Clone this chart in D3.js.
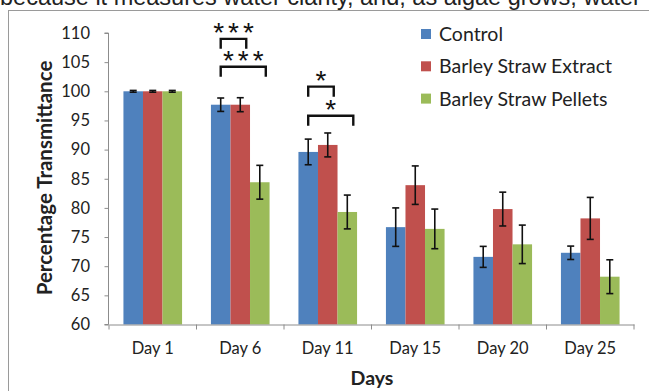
<!DOCTYPE html>
<html>
<head>
<meta charset="utf-8">
<script src="https://cdn.jsdelivr.net/npm/d3@7"></script>
<style>
  body { margin: 0; background: #fff; }
  svg text { font-family: Lato, "Open Sans", sans-serif; }
</style>
</head>
<body>
<div class="container"></div>
<script>
var days = ["Day 1", "Day 6", "Day 11", "Day 15", "Day 20", "Day 25"];
var seriesNames = ["Control", "Barley Straw Extract", "Barley Straw Pellets"];
var control = [100, 97.7, 89.6, 76.7, 71.6, 72.3];
var controlErr = [0.15, 1.15, 2.2, 3.3, 1.8, 1.15];
var extract = [100, 97.7, 90.8, 83.9, 79.8, 78.2];
var extractErr = [0.15, 1.2, 2.05, 3.3, 2.9, 3.6];
var pellets = [100, 84.4, 79.3, 76.4, 73.75, 68.2];
var pelletsErr = [0.15, 2.9, 2.9, 3.4, 3.3, 2.9];
var yTicks = [60, 65, 70, 75, 80, 85, 90, 95, 100, 105, 110];
// significance: day, from series, to series, bracket level (y value), label
var sigDay = ["Day 6", "Day 6", "Day 11", "Day 11"];
var sigFrom = [0, 0, 0, 0];
var sigTo = [1, 2, 1, 2];
var sigLevel = [109, 104.2, 100.8, 95.8];
var sigLabel = ["***", "***", "*", "*"];

const WIDTH = 649;
const HEIGHT = 391;
const colors = ["#4f81bd", "#c0504d", "#9bbb59"];
const AXIS = "#8c8c8c";

var values = [control, extract, pellets];
var errors = [controlErr, extractErr, pelletsErr];

var svg = d3.select('.container').append('svg')
  .attr('width', WIDTH)
  .attr('height', HEIGHT);

// clipped sentence from the page above the figure
svg.append('text')
  .attr('x', 0).attr('y', 5)
  .style('font-family', '"Liberation Sans", Arial, sans-serif')
  .style('font-size', '23.5px')
  .attr('fill', '#222')
  .text('because it measures water clarity, and, as algae grows, water');

svg.append('rect')
  .attr('x', 8.5).attr('y', 10.5)
  .attr('width', 660).attr('height', 400)
  .attr('fill', 'none')
  .attr('stroke', '#9a9a9a');

var xScale = d3.scaleBand()
  .domain(days)
  .range([109, 634]);

var inner = d3.scaleBand()
  .domain([0, 1, 2])
  .range([xScale.bandwidth() * 0.165, xScale.bandwidth() * 0.835]);

var yScale = d3.scaleLinear()
  .domain([60, 110])
  .range([324.5, 33]);

var translate = function (x, y) {
  return "translate(" + x + "," + y + ")";
};

// bars
var groups = svg.selectAll('g.day')
  .data(days)
  .enter().append('g')
  .attr('class', 'day')
  .attr('transform', function (d) { return translate(xScale(d), 0); });

groups.selectAll('rect')
  .data(function (d, i) {
    return [0, 1, 2].map(function (s) { return { s: s, v: values[s][i], e: errors[s][i] }; });
  })
  .enter().append('rect')
  .attr('x', function (d) { return inner(d.s); })
  .attr('width', inner.bandwidth())
  .attr('y', function (d) { return yScale(d.v); })
  .attr('height', function (d) { return yScale(60) - yScale(d.v); })
  .attr('fill', function (d) { return colors[d.s]; });

// error bars
var errG = groups.selectAll('g.err')
  .data(function (d, i) {
    return [0, 1, 2].map(function (s) { return { s: s, v: values[s][i], e: errors[s][i] }; });
  })
  .enter().append('g')
  .attr('class', 'err')
  .attr('stroke', '#111')
  .attr('stroke-width', 1.6);

errG.append('line')
  .attr('x1', function (d) { return inner(d.s) + inner.bandwidth() / 2; })
  .attr('x2', function (d) { return inner(d.s) + inner.bandwidth() / 2; })
  .attr('y1', function (d) { return yScale(d.v + d.e); })
  .attr('y2', function (d) { return yScale(d.v - d.e); });

[1, -1].forEach(function (sign) {
  errG.append('line')
    .attr('x1', function (d) { return inner(d.s) + inner.bandwidth() / 2 - 3.5; })
    .attr('x2', function (d) { return inner(d.s) + inner.bandwidth() / 2 + 3.5; })
    .attr('y1', function (d) { return yScale(d.v + sign * d.e); })
    .attr('y2', function (d) { return yScale(d.v + sign * d.e); });
});

// axes
var yAxis = d3.axisLeft(yScale).tickValues(yTicks).tickSize(4).tickPadding(14.5);
var gy = svg.append('g')
  .attr('transform', translate(108.5, 0))
  .call(yAxis);
gy.select('.domain').attr('stroke', AXIS).attr('d', 'M-4,' + yScale(110) + 'H0V' + yScale(60) + 'H-4');

var xAxis = d3.axisBottom(xScale).tickSize(0).tickPadding(18);
var gx = svg.append('g')
  .attr('transform', translate(0, 324.5))
  .call(xAxis);
gx.select('.domain').attr('stroke', AXIS);
gx.selectAll('.tick line').remove();

var xEdges = days.map(function (d) { return xScale(d); }).concat([xScale.range()[1]]);
gx.selectAll('line.edge')
  .data(xEdges)
  .enter().append('line')
  .attr('class', 'edge')
  .attr('x1', function (d) { return d; }).attr('x2', function (d) { return d; })
  .attr('y1', 0).attr('y2', 5)
  .attr('stroke', AXIS);

svg.selectAll('.tick line').attr('stroke', AXIS);
svg.selectAll('.tick text')
  .style('font-family', 'Lato, sans-serif')
  .style('font-size', '16.5px')
  .attr('fill', '#222');

// axis titles
svg.append('text')
  .attr('transform', translate(52, 178) + ' rotate(-90)')
  .attr('text-anchor', 'middle')
  .style('font-size', '20.5px')
  .style('font-weight', 'bold')
  .attr('fill', '#222')
  .text('Percentage Transmittance');

svg.append('text')
  .attr('x', 372).attr('y', 385)
  .attr('text-anchor', 'middle')
  .style('font-size', '19.5px')
  .style('font-weight', 'bold')
  .attr('fill', '#222')
  .text('Days');

// significance brackets
var centerX = function (day, s) {
  return xScale(day) + inner(s) + inner.bandwidth() / 2;
};
sigDay.forEach(function (day, i) {
  var x1 = centerX(day, sigFrom[i]);
  var x2 = centerX(day, sigTo[i]) + 6;
  var y = yScale(sigLevel[i]);
  svg.append('path')
    .attr('d', 'M' + x1 + ',' + (y + 10) + 'V' + y + 'H' + x2 + 'V' + (y + 10))
    .attr('fill', 'none')
    .attr('stroke', '#111')
    .attr('stroke-width', 2.4);
  svg.append('text')
    .attr('x', (x1 + x2) / 2 + 2)
    .attr('y', y + 3)
    .attr('text-anchor', 'middle')
    .style('font-family', '"Liberation Sans", Arial, sans-serif')
    .style('font-size', '28px')
    .style('letter-spacing', '4px')
    .attr('fill', '#111')
    .text(sigLabel[i]);
});

// legend
var legend = svg.append('g').attr('transform', translate(421, 34));
seriesNames.forEach(function (name, i) {
  var row = legend.append('g').attr('transform', translate(0, i * 32.3));
  row.append('rect')
    .attr('x', 0).attr('y', -5)
    .attr('width', 10).attr('height', 10)
    .attr('fill', colors[i]);
  row.append('text')
    .attr('x', 18).attr('y', 7)
    .style('font-size', '19.5px')
    .attr('fill', '#222')
    .text(name);
});
</script>
</body>
</html>
